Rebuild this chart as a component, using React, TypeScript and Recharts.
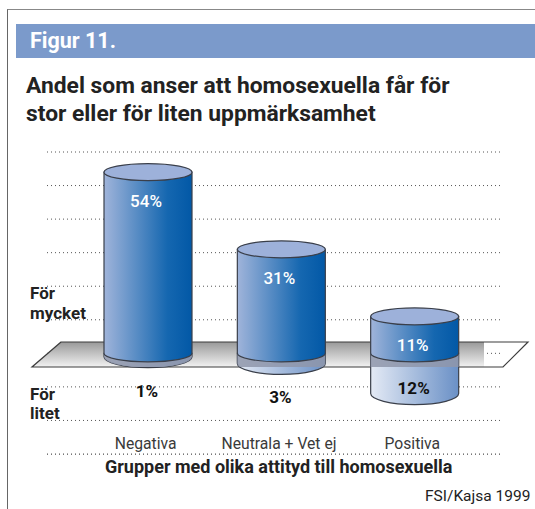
import { Bar, BarChart, CartesianGrid, Customized, LabelList, XAxis, YAxis } from 'recharts';

const groups = ['Negativa', 'Neutrala + Vet ej', 'Positiva'];
const forMycket = [54, 31, 11];
const forLitet = [-1, -3, -12];
const gridTicks = [-30, -20, -10, 0, 10, 20, 30, 40, 50, 60];

const data = groups.map((name, i) => ({ name, mycket: forMycket[i], litet: forLitet[i] }));

const font = 'Roboto, sans-serif';
const RY = 8.5;
const LOWER_RY = 11;
const FRONT_Y = 367;

const UpperBar = (props: any) => {
  const { x, y, width, height } = props;
  const rx = width / 2;
  const cx = x + rx;
  const bottom = y + height;
  return (
    <g>
      <path
        d={`M${x},${y} L${x},${bottom} A${rx},${RY} 0 0 0 ${x + width},${bottom} L${x + width},${y} Z`}
        fill="url(#upperFill)"
        stroke="#3a3f4a"
        strokeWidth={1.2}
      />
      <ellipse cx={cx} cy={y} rx={rx} ry={RY} fill="#9db1da" stroke="#3a3f4a" strokeWidth={1.2} />
    </g>
  );
};

const LowerBar = (props: any) => {
  const { x, y, width, height } = props;
  const rx = width / 2;
  const top = Math.min(y, y + height);
  const bottom = Math.max(y, y + height);
  const d = `M${x},${top} L${x},${bottom} A${rx},${LOWER_RY} 0 0 0 ${x + width},${bottom} L${x + width},${top} Z`;
  return (
    <g>
      <path d={d} fill="url(#lowerFill)" stroke="#3a3f4a" strokeWidth={1.2} />
      {/* the part behind the floor reads as a grey blue */}
      <path d={d} fill="#8f97aa" fillOpacity={0.85} stroke="none" clipPath="url(#aboveFront)" />
    </g>
  );
};

const PlatformFill = () => (
  <polygon points="61,342 32,367 484,367 484,342" fill="url(#floorFill)" />
);

const PlatformTop = () => (
  <polygon points="61,342 32,367 503,367 528,342" fill="none" stroke="#3c3c3c" strokeWidth={1.2} />
);

const Defs = () => (
  <defs>
    <linearGradient id="upperFill" x1="0" y1="0" x2="1" y2="0">
      <stop offset="0" stopColor="#a0b4da" />
      <stop offset="0.72" stopColor="#1567b0" />
      <stop offset="1" stopColor="#0258a6" />
    </linearGradient>
    <linearGradient id="lowerFill" x1="0" y1="0" x2="1" y2="0">
      <stop offset="0" stopColor="#e4eaf5" />
      <stop offset="1" stopColor="#6a90c6" />
    </linearGradient>
    <linearGradient id="floorFill" x1="0" y1="0" x2="0" y2="1">
      <stop offset="0" stopColor="#999999" />
      <stop offset="1" stopColor="#f2f2f2" />
    </linearGradient>
    <clipPath id="aboveFront">
      <rect x={0} y={300} width={535} height={FRONT_Y - 300} />
    </clipPath>
  </defs>
);

const TickLabel = (props: any) => (
  <text x={props.x - 2} y={props.y - 13} textAnchor="middle" fontFamily={font} fontSize={15.7} fill="#3a3a3a">
    {props.payload.value}
  </text>
);

const UpperLabel = (props: any) => (
  <text x={props.x + props.width / 2 - 2} y={props.y + 35} textAnchor="middle" fontFamily={font} fontSize={17} fontWeight={500} fill="#fff">
    {props.value}%
  </text>
);

const LowerLabel = (props: any) => {
  const bottom = Math.max(props.y, props.y + props.height);
  const labelY = props.value > -5 ? bottom + 40 : bottom;
  return (
    <text x={props.x + props.width / 2 - 1} y={labelY} textAnchor="middle" fontFamily={font} fontSize={17} fontWeight={700} fill="#111">
      {Math.abs(props.value)}%
    </text>
  );
};

const place = (left: number, top: number, size: number, weight: number, color = '#222'): React.CSSProperties => ({
  position: 'absolute',
  left,
  top,
  fontFamily: font,
  fontSize: size,
  fontWeight: weight,
  color,
  whiteSpace: 'nowrap',
  lineHeight: 1.15,
});

export default function App() {
  return (
    <div style={{ position: 'absolute', left: 0, top: 0, width: 535, height: 509, background: '#fff', overflow: 'hidden' }}>
      <div style={{ position: 'absolute', left: 7, top: 9, width: 528, height: 500, borderLeft: '1px solid #666', borderTop: '1px solid #888' }} />
      <div style={{ position: 'absolute', left: 16, top: 24, width: 519, height: 34, background: '#7b9acb' }} />
      <div style={{ position: 'absolute', inset: 0 }}>
        <BarChart
          width={535}
          height={509}
          data={data}
          stackOffset="sign"
          margin={{ top: 152, right: 33, bottom: 54, left: 47 }}
        >
          <Defs />
          <YAxis hide domain={[-30, 60]} ticks={gridTicks} />
          <XAxis
            dataKey="name"
            height={1}
            axisLine={false}
            tickLine={false}
            interval={0}
            padding={{ left: 34, right: 21 }}
            tick={TickLabel}
          />
          <CartesianGrid vertical={false} stroke="#555" strokeDasharray="1 3" />
          <Customized component={PlatformFill} />
          <Bar dataKey="litet" stackId="a" barSize={88} shape={LowerBar} isAnimationActive={false}>
            <LabelList dataKey="litet" content={LowerLabel} />
          </Bar>
          <Customized component={PlatformTop} />
          <Bar dataKey="mycket" stackId="a" barSize={88} shape={UpperBar} isAnimationActive={false}>
            <LabelList dataKey="mycket" content={UpperLabel} />
          </Bar>
        </BarChart>
      </div>
      {/* last dotted line sits on the plot's bottom edge, drawn on top of the chart */}
      <div
        style={{
          position: 'absolute',
          left: 47,
          top: 454,
          width: 455,
          height: 1,
          background: 'repeating-linear-gradient(to right, #777 0 1px, transparent 1px 4px)',
        }}
      />
      <div style={place(30, 29, 21.5, 700, '#fff')}>Figur 11.</div>
      <div style={place(26, 73, 22.8, 700)}>Andel som anser att homosexuella får för</div>
      <div style={place(26, 101, 22.8, 700)}>stor eller för liten uppmärksamhet</div>
      <div style={place(30, 284, 17, 700)}>För</div>
      <div style={place(30, 304, 17, 700)}>mycket</div>
      <div style={place(30, 385, 17, 700)}>För</div>
      <div style={place(30, 404, 17, 700)}>litet</div>
      <div style={place(105, 457, 18, 700)}>Grupper med olika attityd till homosexuella</div>
      <div style={place(425, 488, 15.5, 400)}>FSI/Kajsa 1999</div>
    </div>
  );
}
